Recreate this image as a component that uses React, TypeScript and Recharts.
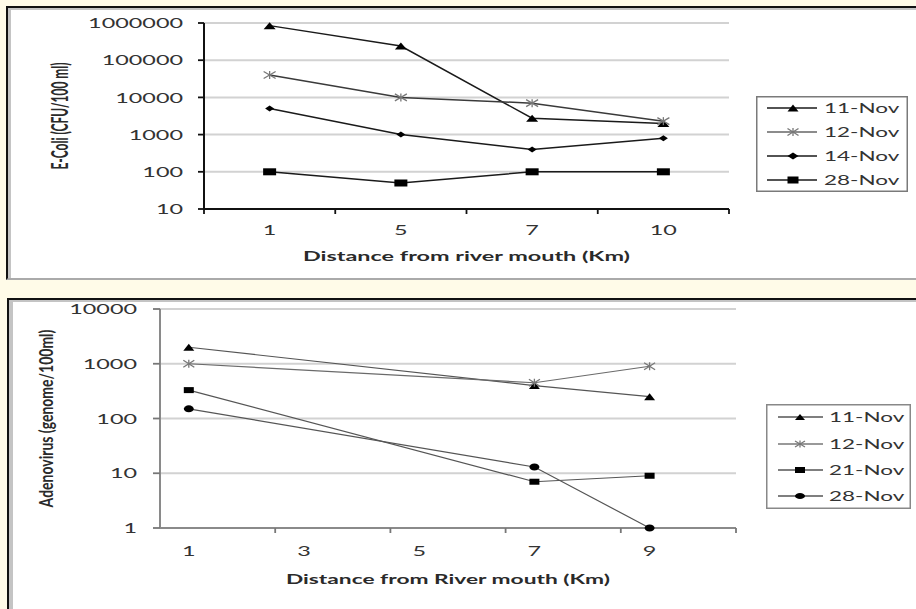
import React from 'react'
import { LineChart, Line, XAxis, YAxis, CartesianGrid, Legend } from 'recharts'

// E-Coli panel (top)
const ecoliDistances = ['1', '5', '7', '10']
const ecoliTicks = [10, 100, 1000, 10000, 100000, 1000000]
const ecoliNov11 = [850000, 240000, 2750, 2000]
const ecoliNov12 = [40000, 10000, 7000, 2300]
const ecoliNov14 = [5000, 1000, 400, 800]
const ecoliNov28 = [100, 50, 100, 100]

// Adenovirus panel (bottom)
const adenoDistances = [1, 7, 9]
const adenoAxisLabels = [1, 3, 5, 7, 9]
const adenoTicks = [1, 10, 100, 1000, 10000]
const adenoNov11 = [2000, 400, 250]
const adenoNov12 = [1000, 450, 900]
const adenoNov21 = [330, 7, 9]
const adenoNov28 = [150, 13, 1]

const FONT = 'Lato, "Open Sans", sans-serif'

const ecoliData = ecoliDistances.map((label, i) => ({
  pos: i,
  label,
  n11: ecoliNov11[i],
  n12: ecoliNov12[i],
  n14: ecoliNov14[i],
  n28: ecoliNov28[i],
}))
// labels at category centres, tick marks on the category boundaries (excel style)
const ecoliXTicks = [-0.5, ...ecoliDistances.flatMap((_, i) => [i, i + 0.5])]

const adenoData = adenoDistances.map((km, i) => ({
  km,
  n11: adenoNov11[i],
  n12: adenoNov12[i],
  n21: adenoNov21[i],
  n28: adenoNov28[i],
}))
const adenoXTicks = adenoAxisLabels.flatMap((v) => [v, v + 1.5])

type Kind = 'triangle' | 'star' | 'diamond' | 'square' | 'circle'

function Marker({ kind, cx, cy, color, w = 12, h = 7 }: { kind: Kind; cx: number; cy: number; color: string; w?: number; h?: number }) {
  const hw = w / 2
  const hh = h / 2
  switch (kind) {
    case 'triangle':
      return <polygon points={`${cx - hw},${cy + hh} ${cx + hw},${cy + hh} ${cx},${cy - hh}`} fill={color} />
    case 'star':
      return (
        <g stroke={color} strokeWidth={1.3}>
          <line x1={cx - hw} y1={cy - hh} x2={cx + hw} y2={cy + hh} />
          <line x1={cx - hw} y1={cy + hh} x2={cx + hw} y2={cy - hh} />
          <line x1={cx} y1={cy - hh - 0.5} x2={cx} y2={cy + hh + 0.5} />
        </g>
      )
    case 'diamond':
      return <polygon points={`${cx - hw},${cy} ${cx},${cy - hh} ${cx + hw},${cy} ${cx},${cy + hh}`} fill={color} />
    case 'square':
      return <rect x={cx - hw} y={cy - hh} width={w} height={h} fill={color} />
    default:
      return <ellipse cx={cx} cy={cy} rx={hw} ry={hh} fill={color} />
  }
}

const dotOf = (kind: Kind, color: string, w: number, h: number) => (p: any) =>
  <Marker key={`d-${p.index}`} kind={kind} cx={p.cx} cy={p.cy} color={color} w={w} h={h} />

function YTick({ x, y, payload, tick, gap, color, fontSize, sx }: any) {
  return (
    <g>
      <line x1={x} x2={x - tick} y1={y} y2={y} stroke={color} strokeWidth={1.8} />
      <text
        transform={`translate(${x - gap},${y}) scale(${sx},1)`}
        textAnchor="end"
        dominantBaseline="central"
        fontFamily={FONT}
        fontSize={fontSize}
        fill="#333"
      >
        {payload.value}
      </text>
    </g>
  )
}

function XTick({ x, y, payload, labelOf, gap, color, fontSize, sx }: any) {
  const v = payload.value
  if (!Number.isInteger(v)) {
    return <line x1={x} x2={x} y1={y} y2={y + 5} stroke={color} strokeWidth={1.8} />
  }
  return (
    <text
      transform={`translate(${x},${y + gap}) scale(${sx},1)`}
      textAnchor="middle"
      dominantBaseline="central"
      fontFamily={FONT}
      fontSize={fontSize}
      fill="#333"
    >
      {labelOf(v)}
    </text>
  )
}

interface LegendRow {
  name: string
  kind: Kind
  line: string
  marker: string
}

function LegendBox({ rows, w, h, rowY, lineX, markX, textX, border, mw, mh }: any) {
  return (
    <svg width={w} height={h} style={{ display: 'block' }}>
      <rect x={0.75} y={0.75} width={w - 1.5} height={h - 1.5} fill="#fff" stroke={border} strokeWidth={1.5} />
      {rows.map((r: LegendRow, i: number) => (
        <g key={r.name}>
          <line x1={lineX[0]} x2={lineX[1]} y1={rowY[i]} y2={rowY[i]} stroke={r.line} strokeWidth={1.5} />
          <Marker kind={r.kind} cx={markX} cy={rowY[i]} color={r.marker} w={mw} h={mh} />
          <text
            transform={`translate(${textX},${rowY[i]}) scale(1.8,1)`}
            dominantBaseline="central"
            fontFamily={FONT}
            fontSize={12.5}
            fill="#333"
          >
            {r.name}
          </text>
        </g>
      ))}
    </svg>
  )
}

const ecoliRows: LegendRow[] = [
  { name: '11-Nov', kind: 'triangle', line: '#1a1a1a', marker: '#000' },
  { name: '12-Nov', kind: 'star', line: '#666', marker: '#777' },
  { name: '14-Nov', kind: 'diamond', line: '#1a1a1a', marker: '#000' },
  { name: '28-Nov', kind: 'square', line: '#1a1a1a', marker: '#000' },
]

const adenoRows: LegendRow[] = [
  { name: '11-Nov', kind: 'triangle', line: '#555', marker: '#000' },
  { name: '12-Nov', kind: 'star', line: '#777', marker: '#777' },
  { name: '21-Nov', kind: 'square', line: '#555', marker: '#000' },
  { name: '28-Nov', kind: 'circle', line: '#555', marker: '#000' },
]

function EcoliChart() {
  return (
    <LineChart width={916} height={280} data={ecoliData} margin={{ top: 23, right: 187, bottom: 0, left: 0 }}>
      <CartesianGrid vertical={false} stroke="#d2d2d2" strokeWidth={2} />
      <XAxis
        dataKey="pos"
        type="number"
        domain={[-0.5, 3.5]}
        ticks={ecoliXTicks}
        interval={0}
        height={71}
        tickSize={0}
        tickMargin={0}
        stroke="#111"
        strokeWidth={2}
        tickLine={false}
        tick={(p: any) => (
          <XTick {...p} labelOf={(v: number) => ecoliDistances[v]} gap={21} color="#111" fontSize={13} sx={1.8} />
        )}
        label={{
          content: ({ viewBox }: any) => (
            <text
              transform={`translate(${viewBox.x + viewBox.width / 2},${viewBox.y + 47}) scale(1.8,1)`}
              textAnchor="middle"
              dominantBaseline="central"
              fontFamily={FONT}
              fontWeight="bold"
              fontSize={13}
              fill="#2a2a2a"
            >
              Distance from river mouth (Km)
            </text>
          ),
        }}
      />
      <YAxis
        scale="log"
        domain={[10, 1000000]}
        ticks={ecoliTicks}
        interval={0}
        width={204}
        tickSize={0}
        tickMargin={0}
        stroke="#111"
        strokeWidth={2}
        tickLine={false}
        tick={(p: any) => <YTick {...p} tick={6} gap={21} color="#111" fontSize={13} sx={1.8} />}
        label={{
          content: ({ viewBox }: any) => (
            <text
              transform={`translate(${viewBox.x + 59},${viewBox.y + viewBox.height / 2}) scale(1.9,1) rotate(-90)`}
              textAnchor="middle"
              dominantBaseline="central"
              fontFamily={FONT}
              fontWeight="bold"
              fontSize={12}
              fill="#2a2a2a"
            >
              E-Coli (CFU/100 ml)
            </text>
          ),
        }}
      />
      <Legend
        layout="vertical"
        align="center"
        verticalAlign="middle"
        wrapperStyle={{ position: 'absolute', left: 756, top: 96, width: 152, height: 96 }}
        content={() => (
          <LegendBox
            rows={ecoliRows}
            w={152}
            h={96}
            rowY={[12, 36, 60, 84]}
            lineX={[11, 61]}
            markX={37}
            textX={68}
            border="#7a7a7a"
            mw={11}
            mh={7}
          />
        )}
      />
      <Line type="linear" dataKey="n11" stroke="#1a1a1a" strokeWidth={1.5} dot={dotOf('triangle', '#000', 12, 7)} activeDot={false} isAnimationActive={false} />
      <Line type="linear" dataKey="n12" stroke="#3a3a3a" strokeWidth={1.5} dot={dotOf('star', '#777', 12, 7)} activeDot={false} isAnimationActive={false} />
      <Line type="linear" dataKey="n14" stroke="#1a1a1a" strokeWidth={1.5} dot={dotOf('diamond', '#000', 9, 6)} activeDot={false} isAnimationActive={false} />
      <Line type="linear" dataKey="n28" stroke="#1a1a1a" strokeWidth={1.5} dot={dotOf('square', '#000', 13, 7)} activeDot={false} isAnimationActive={false} />
    </LineChart>
  )
}

function AdenoChart() {
  return (
    <LineChart width={916} height={319} data={adenoData} margin={{ top: 19, right: 180, bottom: 0, left: 0 }}>
      <CartesianGrid vertical={false} stroke="#d2d2d2" strokeWidth={2} />
      <XAxis
        dataKey="km"
        type="number"
        domain={[0.5, 10.5]}
        ticks={adenoXTicks}
        interval={0}
        height={81}
        tickSize={0}
        tickMargin={0}
        stroke="#8a8a8a"
        strokeWidth={2}
        tickLine={false}
        tick={(p: any) => <XTick {...p} labelOf={(v: number) => v} gap={23} color="#777" fontSize={13} sx={1.8} />}
        label={{
          content: ({ viewBox }: any) => (
            <text
              transform={`translate(${viewBox.x + viewBox.width / 2},${viewBox.y + 51}) scale(1.75,1)`}
              textAnchor="middle"
              dominantBaseline="central"
              fontFamily={FONT}
              fontWeight="bold"
              fontSize={13}
              fill="#2a2a2a"
            >
              Distance from River mouth (Km)
            </text>
          ),
        }}
      />
      <YAxis
        scale="log"
        domain={[1, 10000]}
        ticks={adenoTicks}
        interval={0}
        width={160}
        tickSize={0}
        tickMargin={0}
        stroke="#8a8a8a"
        strokeWidth={2}
        tickLine={false}
        tick={(p: any) => <YTick {...p} tick={7} gap={23} color="#777" fontSize={13} sx={1.8} />}
        label={{
          content: ({ viewBox }: any) => (
            <text
              transform={`translate(${viewBox.x + 46},${viewBox.y + viewBox.height / 2}) scale(1.4,1) rotate(-90)`}
              textAnchor="middle"
              dominantBaseline="central"
              fontFamily={FONT}
              fontWeight="bold"
              fontSize={14}
              fill="#2a2a2a"
            >
              Adenovirus (genome/100ml)
            </text>
          ),
        }}
      />
      <Legend
        layout="vertical"
        align="center"
        verticalAlign="middle"
        wrapperStyle={{ position: 'absolute', left: 766, top: 114, width: 145, height: 105 }}
        content={() => (
          <LegendBox
            rows={adenoRows}
            w={145}
            h={105}
            rowY={[13, 40, 66, 92]}
            lineX={[12, 57]}
            markX={34}
            textX={63}
            border="#888"
            mw={10}
            mh={6}
          />
        )}
      />
      <Line type="linear" dataKey="n11" stroke="#555" strokeWidth={1.2} dot={dotOf('triangle', '#000', 11, 7)} activeDot={false} isAnimationActive={false} />
      <Line type="linear" dataKey="n12" stroke="#6a6a6a" strokeWidth={1.2} dot={dotOf('star', '#777', 11, 7)} activeDot={false} isAnimationActive={false} />
      <Line type="linear" dataKey="n21" stroke="#555" strokeWidth={1.2} dot={dotOf('square', '#000', 10, 6)} activeDot={false} isAnimationActive={false} />
      <Line type="linear" dataKey="n28" stroke="#555" strokeWidth={1.2} dot={dotOf('circle', '#000', 10, 7)} activeDot={false} isAnimationActive={false} />
    </LineChart>
  )
}

export default function App() {
  return (
    <div style={{ position: 'absolute', left: 0, top: 0, width: 916, height: 609, overflow: 'hidden', background: '#fffbe8' }}>
      <div
        style={{
          position: 'absolute',
          left: 6,
          top: 6,
          width: 930,
          height: 274,
          boxSizing: 'border-box',
          background: '#fff',
          borderTop: '2px solid #111',
          borderLeft: '2px solid #111',
          borderBottom: '2px solid #aaa',
          boxShadow: 'inset 3px 2px 0 #c4c4c4',
        }}
      />
      <div
        style={{
          position: 'absolute',
          left: 7,
          top: 298,
          width: 930,
          height: 330,
          boxSizing: 'border-box',
          background: '#fff',
          borderTop: '2px solid #111',
          borderLeft: '2px solid #111',
          boxShadow: 'inset 4px 2px 0 #c4c4c4',
        }}
      />
      <div style={{ position: 'absolute', left: 0, top: 0 }}>
        <EcoliChart />
      </div>
      <div style={{ position: 'absolute', left: 0, top: 290 }}>
        <AdenoChart />
      </div>
    </div>
  )
}
